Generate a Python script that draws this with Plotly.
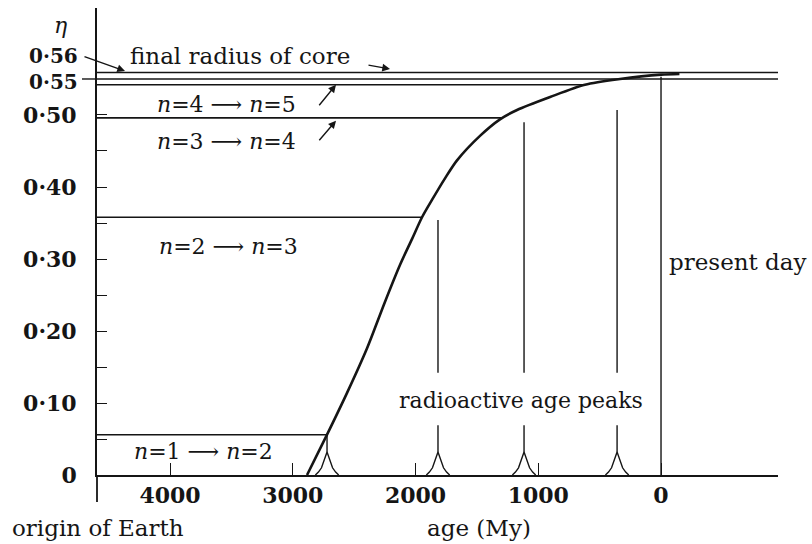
import plotly.graph_objects as go

# ---------------- data ----------------
# growth curve of the core radius eta against age (My)
curve_age = [2884, 2721, 2558, 2395, 2250, 2126, 2028, 1947, 1866, 1760, 1662, 1475, 1312, 1173, 904, 620, 334, 0, -150]
curve_eta = [0.0, 0.056, 0.114, 0.176, 0.240, 0.292, 0.328, 0.358, 0.382, 0.412, 0.437, 0.471, 0.494, 0.507, 0.525, 0.542, 0.550, 0.556, 0.557]

# convection-pattern transitions (horizontal levels) and where they meet the curve
trans_eta = [0.056, 0.358, 0.496, 0.542]
trans_end_age = [2721, 1947, 1300, 620]

# final radius of core and the 0.55 level
final_eta = 0.559
level55_eta = 0.550

# radioactive age peaks
peak_age = [2721, 1817, 1116, 358]
peak_line_top = [0.056, 0.354, 0.490, 0.507]
peak_gap = [0.069, 0.142]      # gap in the marker lines for the label
peak_offset = [-95, -70, -45, -25, -10, 0, 10, 25, 45, 70, 95]
peak_shape = [0.0, 0.004, 0.010, 0.019, 0.027, 0.032, 0.027, 0.019, 0.010, 0.004, 0.0]

present_day_top = 0.553

x_ticks = [4000, 3000, 2000, 1000, 0]
x_ticktext = ["4000", "3000", "2000", "1000", "0"]
y_ticks = [0, 0.05, 0.10, 0.15, 0.20, 0.25, 0.30, 0.35, 0.40, 0.45, 0.50]
y_ticktext = ["0", "", "0·10", "", "0·20", "", "0·30", "", "0·40", "", "0·50"]

X_RANGE = [4595, -953]
Y_RANGE = [0, 0.6486]

INK = "#151515"
SERIF = "DejaVu Serif"

fig = go.Figure()

def line(x, y, w=1.6):
    fig.add_trace(go.Scatter(x=x, y=y, mode="lines", line=dict(color=INK, width=w),
                             hoverinfo="skip", showlegend=False))

# horizontal transition levels
for e, a in zip(trans_eta, trans_end_age):
    line([X_RANGE[0], a], [e, e])
# 0.55 and final radius lines (full width)
line([X_RANGE[0], X_RANGE[1]], [level55_eta, level55_eta])
line([X_RANGE[0], X_RANGE[1]], [final_eta, final_eta])

# main curve
fig.add_trace(go.Scatter(x=curve_age, y=curve_eta, mode="lines",
                         line=dict(color=INK, width=2.6, shape="spline", smoothing=0.8),
                         hoverinfo="skip", showlegend=False))

# peaks and their marker lines
for i, (a, top) in enumerate(zip(peak_age, peak_line_top)):
    line([a + o for o in peak_offset], peak_shape, 1.4)
    apex = max(peak_shape)
    if i == 0:
        line([a, a], [apex, top], 1.4)
    else:
        line([a, a], [apex, peak_gap[0]], 1.4)
        line([a, a], [peak_gap[1], top], 1.4)

# present day line
line([0, 0], [0, present_day_top], 1.4)

# y-axis extension below the x-axis and the short 0.55 stub at the label
fig.add_shape(type="line", xref="paper", yref="paper", x0=0, x1=0, y0=-27 / 467, y1=0,
              line=dict(color=INK, width=1.8))
fig.add_shape(type="line", xref="paper", yref="paper", x0=-15 / 681, x1=0,
              y0=level55_eta / Y_RANGE[1], y1=level55_eta / Y_RANGE[1],
              line=dict(color=INK, width=1.4))

ann = []
def text(t, x, y, size=23, anchor="left", bold=False, italic=False, ref="data"):
    r = ("x", "y") if ref == "data" else ("paper", "paper")
    ann.append(dict(text=t, x=x, y=y, xref=r[0], yref=r[1], showarrow=False,
                    xanchor=anchor, yanchor="middle",
                    font=dict(family=SERIF, size=size, color=INK,
                              weight="bold" if bold else "normal",
                              style="italic" if italic else "normal")))

def arrow(x, y, ax, ay):
    ann.append(dict(text="", x=x, y=y, xref="x", yref="y", ax=ax, ay=ay,
                    showarrow=True, arrowhead=2, arrowsize=1.1, arrowwidth=1.4,
                    arrowcolor=INK, standoff=0))

text("η", -0.0543, 0.9615, size=22, anchor="center", italic=True, ref="paper")
text("0·56", -0.025, 0.897, size=20, anchor="right", bold=True, ref="paper")
text("0·55", -0.025, 0.8415, size=20, anchor="right", bold=True, ref="paper")
text("final radius of core", 4342, 0.582, size=23)
arrow(2208, 0.564, -23, -4)
arrow(4367, 0.561, -42, -15)
text("<i>n</i>=4 ⟶ <i>n</i>=5", 4122, 0.515, size=22)
arrow(2648, 0.542, -18, 22)
text("<i>n</i>=3 ⟶ <i>n</i>=4", 4122, 0.4625, size=22)
arrow(2648, 0.492, -18, 21)
text("<i>n</i>=2 ⟶ <i>n</i>=3", 4106, 0.318, size=22)
text("<i>n</i>=1 ⟶ <i>n</i>=2", 4309, 0.032, size=22)
text("radioactive age peaks", 2151, 0.103, size=22)
text("present day", -49, 0.296, size=23)
text("origin of Earth", -0.1278, -0.1135, size=23, ref="paper")
text("age (My)", 0.4816, -0.1135, size=23, ref="paper")

fig.update_layout(
    width=812, height=544,
    margin=dict(l=97, r=34, t=8, b=69),
    paper_bgcolor="white", plot_bgcolor="white",
    annotations=ann,
    xaxis=dict(range=X_RANGE, showgrid=False, zeroline=False, showline=True,
               linecolor=INK, linewidth=1.8, ticks="inside", ticklen=12, tickwidth=1.4,
               tickcolor=INK, tickvals=x_ticks, ticktext=x_ticktext, ticklabelstandoff=0,
               tickfont=dict(family=SERIF, size=22, color=INK, weight="bold")),
    yaxis=dict(range=Y_RANGE, showgrid=False, zeroline=False, showline=True,
               linecolor=INK, linewidth=1.8, ticks="inside", ticklen=10, tickwidth=1.4,
               tickcolor=INK, tickvals=y_ticks, ticktext=y_ticktext, ticklabelstandoff=14,
               tickfont=dict(family=SERIF, size=22, color=INK, weight="bold")),
)

fig.write_html("out.html")
